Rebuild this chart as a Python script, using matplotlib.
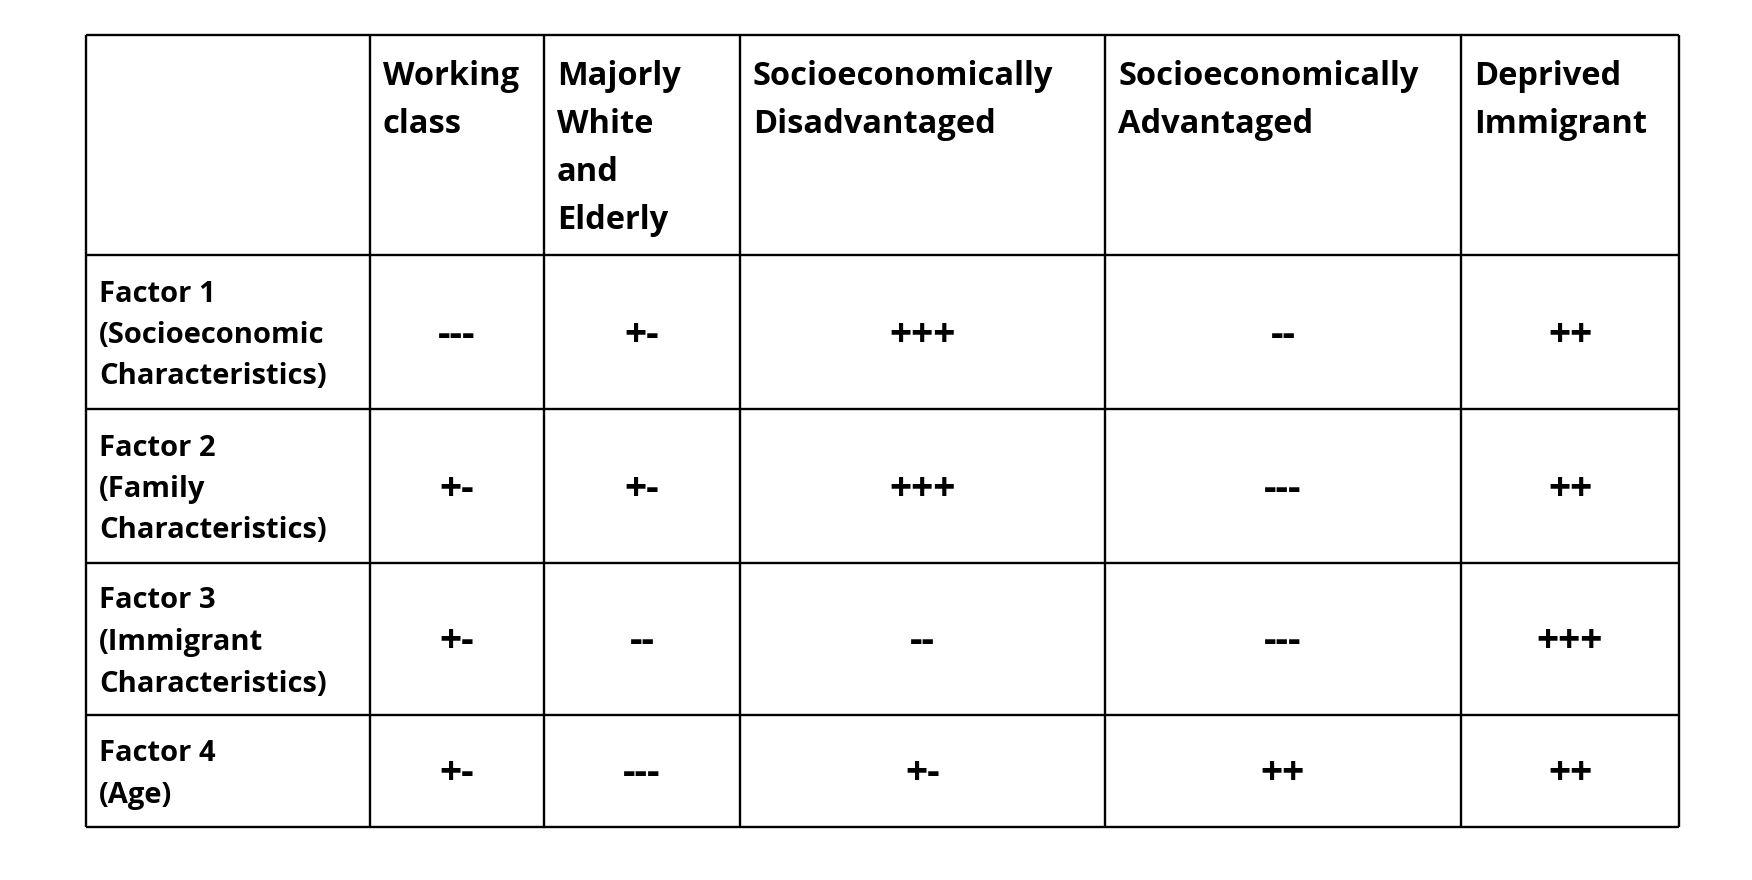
import matplotlib.pyplot as plt

plt.rcParams['font.family'] = ['Open Sans', 'DejaVu Sans']

# table content
col_headers = ['', 'Working\nclass', 'Majorly\nWhite\nand\nElderly',
               'Socioeconomically\nDisadvantaged', 'Socioeconomically\nAdvantaged',
               'Deprived\nImmigrant']
row_labels = ['Factor 1\n(Socioeconomic\nCharacteristics)',
              'Factor 2\n(Family\nCharacteristics)',
              'Factor 3\n(Immigrant\nCharacteristics)',
              'Factor 4\n(Age)']
cell_values = [
    ['---', '+-', '+++', '--', '++'],
    ['+-', '+-', '+++', '---', '++'],
    ['+-', '--', '--', '---', '+++'],
    ['+-', '---', '+-', '++', '++'],
]

# grid layout in pixels
col_edges = [86, 370, 544, 740, 1105, 1461, 1679]
row_edges = [35, 255, 409, 563, 715, 827]

W, H = 1752, 880
fig = plt.figure(figsize=(W / 100, H / 100), dpi=100)
ax = fig.add_axes([0, 0, 1, 1])
ax.set_xlim(0, W)
ax.set_ylim(H, 0)
ax.axis('off')

# grid lines
ax.hlines(row_edges, col_edges[0], col_edges[-1], color='black', lw=1.7)
ax.vlines(col_edges, row_edges[0], row_edges[-1], color='black', lw=1.7)

head_size = 23.5
lab_size = 21
val_size = 28
pad = 13

# header (top aligned)
for j, head in enumerate(col_headers):
    for k, line in enumerate(head.split('\n')):
        if line:
            ax.text(col_edges[j] + pad, 85 + k * 48, line, fontsize=head_size,
                    fontweight='bold', va='baseline', ha='left')

# row labels (vertically centred)
for i, lab in enumerate(row_labels):
    lines = lab.split('\n')
    yc = (row_edges[i + 1] + row_edges[i + 2]) / 2
    n = len(lines)
    for k, line in enumerate(lines):
        ax.text(col_edges[0] + pad, yc + (k - (n - 1) / 2) * 41.5 + 11, line,
                fontsize=lab_size, fontweight='bold', va='baseline', ha='left')

# values
for i, row in enumerate(cell_values):
    yc = (row_edges[i + 1] + row_edges[i + 2]) / 2
    for j, v in enumerate(row):
        xc = (col_edges[j + 1] + col_edges[j + 2]) / 2
        ax.text(xc, yc + 3, v, fontsize=val_size, fontweight='bold',
                ha='center', va='center')

fig.savefig('out.png', dpi=100, facecolor='white')
